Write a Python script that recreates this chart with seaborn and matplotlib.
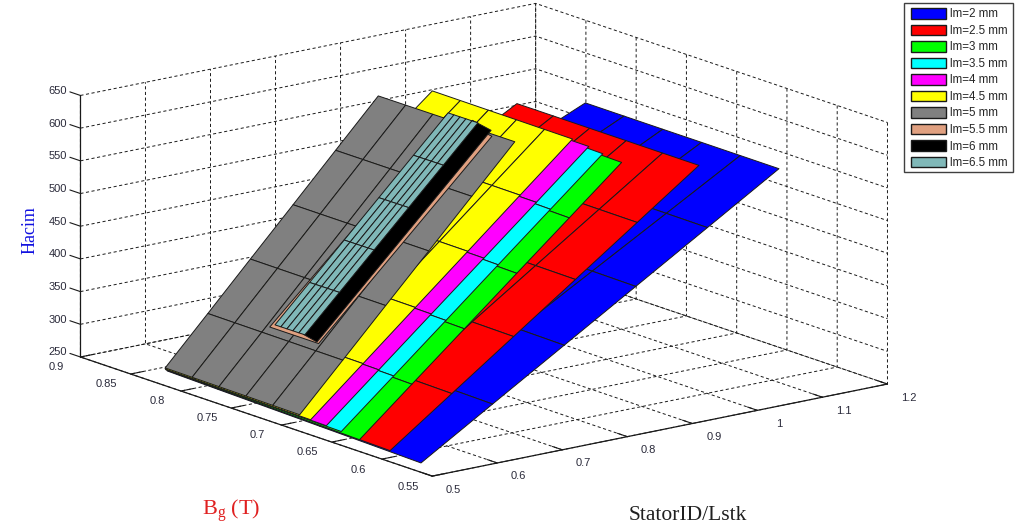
import numpy as np
import matplotlib
matplotlib.use('Agg')
import matplotlib.pyplot as plt
import seaborn as sns
from matplotlib.patches import Patch, Rectangle
from mpl_toolkits.mplot3d import proj3d

# values; nodes hidden under upper surfaces are estimates
lm_labels = ['lm=2 mm', 'lm=2.5 mm', 'lm=3 mm', 'lm=3.5 mm', 'lm=4 mm',
             'lm=4.5 mm', 'lm=5 mm', 'lm=5.5 mm', 'lm=6 mm', 'lm=6.5 mm']
lm_colors = ['#0000ff', '#ff0000', '#00ff00', '#00ffff', '#ff00ff',
             '#ffff00', '#808080', '#e0a080', '#000000', '#80b8b8']

ratio_2 = [0.5, 0.6292, 0.7584, 0.8876, 1.0168, 1.146]
bg_2 = [[.8137, .7632, .7127, .6622, .6117, .5612],
        [.8141, .7660, .7179, .6698, .6217, .5736],
        [.8145, .7688, .7231, .6773, .6316, .5859],
        [.8148, .7715, .7282, .6849, .6416, .5983],
        [.8152, .7743, .7334, .6925, .6515, .6106],
        [.8156, .7771, .7386, .7000, .6615, .6230]]
vol_2 = [[273.6, 271.7, 269.9, 268.0, 266.2, 264.3],
         [329.4, 327.9, 326.4, 324.9, 323.4, 321.9],
         [385.2, 384.1, 382.9, 381.8, 380.6, 379.5],
         [441.0, 440.2, 439.4, 438.6, 437.8, 437.0],
         [496.8, 496.4, 495.9, 495.5, 495.0, 494.6],
         [552.6, 552.5, 552.4, 552.4, 552.3, 552.2]]

ratio_25 = [0.5, 0.608, 0.716, 0.824, 0.932, 1.04]
bg_25 = [[.8148, .7702, .7257, .6811, .6366, .5920],
         [.8149, .7720, .7291, .6862, .6433, .6004],
         [.8149, .7737, .7325, .6912, .6500, .6088],
         [.8150, .7754, .7359, .6963, .6568, .6172],
         [.8150, .7771, .7392, .7014, .6635, .6256],
         [.8151, .7789, .7427, .7064, .6702, .6340]]
vol_25 = [[274.6, 273.1, 271.6, 270.1, 268.6, 267.1],
          [334.3, 333.1, 331.9, 330.7, 329.5, 328.3],
          [394.0, 393.1, 392.2, 391.2, 390.3, 389.4],
          [453.7, 453.1, 452.5, 451.8, 451.2, 450.6],
          [513.4, 513.1, 512.7, 512.4, 512.0, 511.7],
          [573.1, 573.1, 573.0, 573.0, 572.9, 572.9]]

ratio_3 = [0.5, 0.5968, 0.6936, 0.7904, 0.8872, 0.984]
bg_3 = [[.8152, .6224], [.8152, .6329], [.8152, .6433],
        [.8152, .6538], [.8152, .6642], [.8152, .6747]]
vol_3 = [[275.1, 268.0], [334.4, 327.9], [393.7, 387.8],
         [453.1, 447.7], [512.4, 507.6], [571.7, 567.5]]

ratio_35 = [0.5, 0.5938, 0.6875, 0.7813, 0.875, 0.9688]
bg_35 = [[.8154, .6405], [.8154, .6491], [.8154, .6577],
         [.8154, .6664], [.8154, .6750], [.8154, .6836]]
vol_35 = [[275.8, 271.1], [337.4, 332.7], [399.0, 394.3],
          [460.5, 456.0], [522.1, 517.6], [583.7, 579.2]]

ratio_4 = [0.5, 0.5923, 0.6846, 0.7769, 0.8692, 0.9615]
bg_4 = [[.8157, .6554], [.8157, .6629], [.8157, .6704],
        [.8157, .6778], [.8157, .6853], [.8157, .6928]]
vol_4 = [[276.4, 272.2], [338.7, 335.2], [401.1, 398.1],
         [463.4, 461.1], [525.8, 524.0], [588.1, 587.0]]

ratio_45 = [0.5, 0.5822, 0.6643, 0.7465, 0.8286, 0.9108]
bg_45 = [[.8157, .7868, .7578, .7289, .7000, .6710],
         [.8157, .7870, .7582, .7295, .7007, .6720],
         [.8157, .7872, .7587, .7301, .7016, .6731],
         [.8157, .7874, .7591, .7307, .7024, .6741],
         [.8157, .7876, .7595, .7314, .7033, .6752],
         [.8157, .7878, .7599, .7320, .7041, .6762]]
vol_45 = [[275.7, 275.2, 274.7, 274.2, 273.7, 273.2],
          [344.2, 343.8, 343.3, 342.9, 342.4, 342.0],
          [412.7, 412.3, 412.0, 411.6, 411.2, 410.8],
          [481.2, 480.9, 480.6, 480.2, 479.9, 479.6],
          [549.7, 549.4, 549.2, 548.9, 548.7, 548.4],
          [618.2, 618.0, 617.8, 617.6, 617.4, 617.2]]

ratio_5 = [0.5, 0.5656, 0.6312, 0.6968, 0.7624, 0.828]
bg_5 = [[.8157, .7889, .7622, .7354, .7087, .6819],
        [.8157, .7889, .7620, .7352, .7083, .6815],
        [.8158, .7889, .7620, .7350, .7081, .6812],
        [.8158, .7888, .7618, .7348, .7078, .6808],
        [.8159, .7888, .7617, .7347, .7076, .6805],
        [.8159, .7887, .7616, .7344, .7073, .6801]]
vol_5 = [[277.2, 276.8, 276.4, 276.0, 275.6, 275.2],
         [347.2, 346.9, 346.6, 346.3, 346.0, 345.7],
         [417.2, 417.0, 416.8, 416.6, 416.4, 416.2],
         [487.1, 487.0, 486.9, 486.9, 486.8, 486.7],
         [557.1, 557.1, 557.1, 557.2, 557.2, 557.2],
         [627.1, 627.2, 627.3, 627.5, 627.6, 627.7]]

ratio_55 = [0.573, 0.833]
bg_55 = [[.7594, .7108], [.7478, .7066]]
vol_55 = [[355.1, 355.1], [632.6, 622.0]]

ratio_6 = [0.573, 0.833]
bg_6 = [[.7260, .7124], [.7260, .7074]]
vol_6 = [[361.4, 356.7], [636.3, 630.7]]

ratio_65 = [0.573, 0.625, 0.677, 0.729, 0.781, 0.833]
bg_65 = [[.7537, .7478, .7418, .7359, .7299, .7240],
         [.7529, .7470, .7410, .7351, .7291, .7232],
         [.7521, .7462, .7402, .7343, .7283, .7224],
         [.7513, .7454, .7394, .7335, .7275, .7216],
         [.7505, .7446, .7386, .7327, .7267, .7208],
         [.7497, .7438, .7378, .7319, .7259, .7200]]
vol_65 = [[360.6, 360.7, 360.7, 360.8, 360.8, 360.9],
          [415.4, 415.5, 415.5, 415.6, 415.6, 415.7],
          [470.2, 470.3, 470.3, 470.4, 470.4, 470.5],
          [525.0, 525.1, 525.1, 525.2, 525.2, 525.3],
          [579.8, 579.9, 579.9, 580.0, 580.0, 580.1],
          [634.6, 634.7, 634.7, 634.8, 634.8, 634.9]]

ratios = [ratio_2, ratio_25, ratio_3, ratio_35, ratio_4, ratio_45, ratio_5, ratio_55, ratio_6, ratio_65]
bgs = [bg_2, bg_25, bg_3, bg_35, bg_4, bg_45, bg_5, bg_55, bg_6, bg_65]
vols = [vol_2, vol_25, vol_3, vol_35, vol_4, vol_45, vol_5, vol_55, vol_6, vol_65]

ratio_ticks = [0.5, 0.6, 0.7, 0.8, 0.9, 1, 1.1, 1.2]
ratio_ticklabels = ['0.5', '0.6', '0.7', '0.8', '0.9', '1', '1.1', '1.2']
bg_ticks = [0.55, 0.6, 0.65, 0.7, 0.75, 0.8, 0.85, 0.9]
bg_ticklabels = ['0.55', '0.6', '0.65', '0.7', '0.75', '0.8', '0.85', '0.9']
vol_ticks = [250, 300, 350, 400, 450, 500, 550, 600, 650]

sns.set_theme(style='white')
plt.rcParams['font.family'] = ['Liberation Sans', 'DejaVu Sans']
plt.rcParams['mathtext.fontset'] = 'custom'
plt.rcParams['mathtext.rm'] = 'Liberation Serif'

palette = sns.color_palette(lm_colors)

fig = plt.figure(figsize=(10.24, 5.27), dpi=100)
S = 832.5
ax = fig.add_axes([(472.7 - S / 2) / 1024, (276 - S / 2) / 527, S / 1024, S / 527],
                  projection='3d', proj_type='ortho', computed_zorder=False)
ax.set_box_aspect((1, 1, 0.471))
ax.view_init(elev=15.17, azim=-127.7)
ax.patch.set_alpha(0)

for i, (ratio, bg, vol) in enumerate(zip(ratios, bgs, vols)):
    bg = np.array(bg)
    vol = np.array(vol)
    xx = np.repeat(np.array(ratio)[:, None], bg.shape[1], axis=1)
    ax.plot_surface(xx, bg, vol, color=palette[i], edgecolor='k', linewidth=0.7,
                    shade=False, rstride=1, cstride=1, antialiased=True, zorder=i + 1)

ax.set_xlim(0.5, 1.2)
ax.set_ylim(0.55, 0.9)
ax.set_zlim(250, 650)
ax.set_xticks(ratio_ticks)
ax.set_yticks(bg_ticks)
ax.set_zticks(vol_ticks)
ax.tick_params(axis='both', colors='k', labelsize=1)

for axis in [ax.xaxis, ax.yaxis, ax.zaxis]:
    axis.pane.set_facecolor((1, 1, 1, 0))
    axis.pane.set_edgecolor((1, 1, 1, 0))
    axis._axinfo['grid'].update(color='k', linewidth=0.7, linestyle=(0, (3.2, 2.6)))
    axis._axinfo['tick'].update(inward_factor=0, outward_factor=0.35, linewidth={True: 0.8, False: 0.8})
    axis.line.set_color('k')
    axis.line.set_linewidth(0.9)
    axis.gridlines.set_capstyle('butt')
    for t in axis.get_major_ticks():
        t.label1.set_visible(False)
        t.label2.set_visible(False)

# the z ticks point along the Bg direction
ax.zaxis._axinfo['tick'].update(outward_factor=0)
for v in vol_ticks:
    ax.plot([0.5, 0.5], [0.9, 0.9 + 0.0105], [v, v], color='k', linewidth=0.8, zorder=0)
ax.set_xlim(0.5, 1.2)
ax.set_ylim(0.55, 0.9)
ax.set_zlim(250, 650)

fig.canvas.draw()


def tick_text(x, y, z, s):
    px, py, _ = proj3d.proj_transform(x, y, z, ax.get_proj())
    ax.annotate(s, (px, py), fontsize=8, color='#2a2a3a', ha='center', va='center', annotation_clip=False)


# tick labels next to each tick, pushed out along the box edges
for v, s in zip(ratio_ticks, ratio_ticklabels):
    tick_text(v, 0.55 - 0.0213, 250 - 9.5, s)
for v, s in zip(bg_ticks, bg_ticklabels):
    tick_text(0.5 - 0.037, v, 250 - 8.5, s)
for v in vol_ticks:
    tick_text(0.5, 0.9 + 0.0228, v - 5, str(v))

# legend frame drawn on its own so it can hug the rows like the original box
fig.add_artist(Rectangle((904 / 1024, 1 - 172 / 527), 109 / 1024, 169.3 / 527, transform=fig.transFigure,
                         facecolor='white', edgecolor='#404040', linewidth=1, zorder=1))
handles = [Patch(facecolor=palette[i], edgecolor='k', linewidth=1) for i in range(10)]
leg = fig.legend(handles, lm_labels, loc='upper left', bbox_to_anchor=(905.3 / 1024, 1 - 2.7 / 527),
                 fontsize=8.4, frameon=False, handlelength=3.03, handleheight=1.0, handletextpad=0.3,
                 labelspacing=0.37, borderpad=0.46, borderaxespad=0)
leg.set_zorder(5)

fig.text(30 / 1024, 1 - 230 / 527, 'Hacim', color='#1010e0', family='Liberation Serif', fontsize=13,
         rotation=90, ha='center', va='center')
fig.text(231 / 1024, 1 - 511 / 527, r'$\mathrm{B_g}$ (T)', color='#e02020', family='Liberation Serif',
         fontsize=16, ha='center', va='center')
fig.text(688 / 1024, 1 - 515 / 527, 'StatorID/Lstk', color='#202020', family='Liberation Serif',
         fontsize=15.5, ha='center', va='center')

fig.savefig('out.png', dpi=100)
